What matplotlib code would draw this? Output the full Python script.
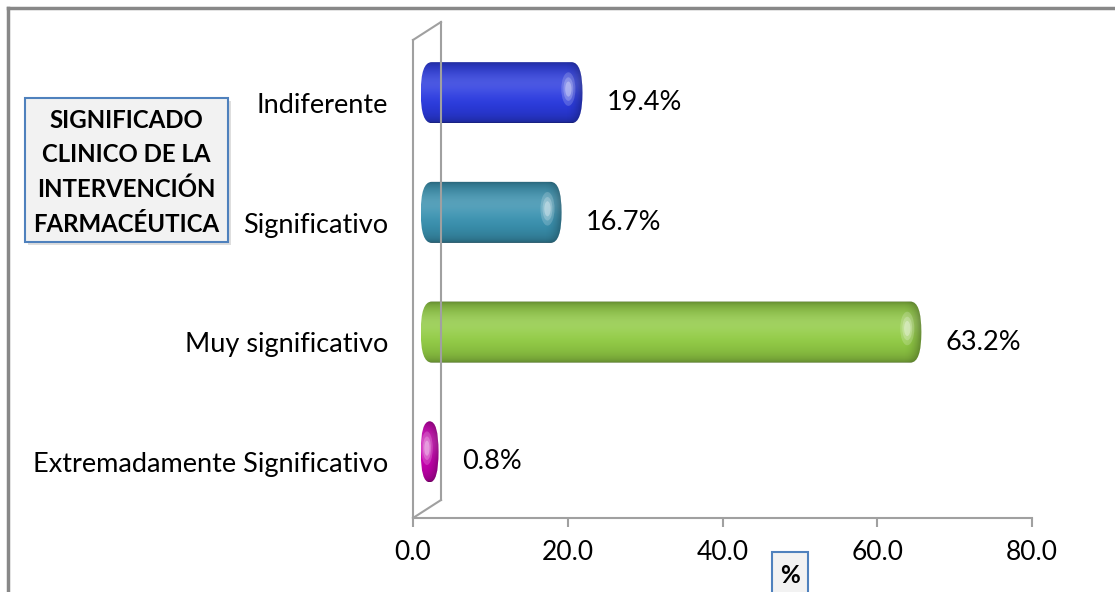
import numpy as np
import matplotlib.pyplot as plt
import matplotlib.colors as mcolors
from matplotlib.patches import FancyBboxPatch, Rectangle, Ellipse
from matplotlib.lines import Line2D

# data (top to bottom as in the chart)
categories = ['Indiferente', 'Significativo', 'Muy significativo', 'Extremadamente Significativo']
values = [19.4, 16.7, 63.2, 0.8]
bar_colors = ['#2B3BE0', '#3A92B0', '#92CC45', '#C800B0']
x_ticks = [0, 20, 40, 60, 80]
x_tick_labels = ['0.0', '20.0', '40.0', '60.0', '80.0']
box_lines = ['SIGNIFICADO', 'CLINICO DE LA', 'INTERVENCIÓN', 'FARMACÉUTICA']

plt.rcParams['font.family'] = ['Lato', 'DejaVu Sans']

W, H = 1115, 592
fig = plt.figure(figsize=(W / 100, H / 100), dpi=100)
fig.patch.set_facecolor('white')


def fx(px):
    return px / W


def fy(py):
    return 1 - py / H


ax = fig.add_axes([fx(413), fy(518), (1032 - 413) / W, (518 - 40) / H])
ax.set_facecolor('none')

pos = np.arange(len(categories))[::-1]
depth_x, depth_y = 1.0, 0.085   # small 3D shift of the cylinders
bar_h = 0.51


def shade(base, n=80):
    rgb = np.array(mcolors.to_rgb(base))
    t = np.linspace(0, 1, n)
    light = np.exp(-((t - 0.35) / 0.22) ** 2)
    dark = 0.55 + 0.45 * np.sin(np.pi * t) ** 0.35
    cols = rgb[None, :] * dark[:, None]
    cols = cols + (1 - cols) * 0.15 * light[:, None]
    return cols.reshape(n, 1, 3)


for cat, v, c, p in zip(categories, values, bar_colors, pos):
    x0 = depth_x
    x1 = v + 2.5
    yc = p + depth_y
    y0, y1 = yc - bar_h / 2, yc + bar_h / 2
    w = x1 - x0
    r = min(1.4, w / 2)
    patch = FancyBboxPatch((x0, y0), w, bar_h,
                           boxstyle=f'round,pad=0,rounding_size={r}',
                           mutation_aspect=(bar_h / 2) / r,
                           facecolor='none', edgecolor='none')
    ax.add_patch(patch)
    im = ax.imshow(shade(c), extent=(x0, x1, y0, y1), aspect='auto',
                   origin='upper', interpolation='bilinear', zorder=2)
    im.set_clip_path(patch)
    # darker right cap
    m = 200
    ramp = np.clip((np.linspace(x0, x1, m) - (x1 - 1.6 * r)) / (1.6 * r), 0, 1)
    over = np.zeros((1, m, 4))
    over[0, :, 3] = 0.3 * ramp ** 2
    im2 = ax.imshow(over, extent=(x0, x1, y0, y1), aspect='auto',
                    interpolation='bilinear', zorder=3)
    im2.set_clip_path(patch)
    # soft highlight near the right end
    for k, a in zip([1.0, 0.7, 0.45], [0.18, 0.22, 0.3]):
        hl = Ellipse((x1 - 1.3 * r, yc + 0.03), 1.3 * r * k, bar_h * 0.55 * k,
                     facecolor='white', edgecolor='none', alpha=a, zorder=4)
        ax.add_patch(hl)
        hl.set_clip_path(patch)
    ax.annotate(f'{v}%', xy=(x1, p), xytext=(24, 0), textcoords='offset pixels',
                va='center', ha='left', fontsize=19.5, color='black')

ax.set_xlim(0, 80)
ax.set_ylim(-0.468, 3.525)
ax.set_xticks(x_ticks)
ax.set_xticklabels(x_tick_labels, fontsize=19)
ax.set_yticks(pos)
ax.set_yticklabels(categories, fontsize=19.5)
ax.tick_params(axis='y', length=0, pad=18)
ax.tick_params(axis='x', direction='out', length=6.5, width=1.5, color='#A0A0A0', pad=9)
for s in ['top', 'right', 'left']:
    ax.spines[s].set_visible(False)
ax.spines['bottom'].set_color('#A0A0A0')
ax.spines['bottom'].set_linewidth(1.5)

# 3D side wall
wall = [((413, 40), (413, 518)), ((441, 22), (441, 500)),
        ((413, 40), (441, 22)), ((413, 518), (441, 500))]
for (ax0, ay0), (ax1, ay1) in wall:
    fig.add_artist(Line2D([fx(ax0), fx(ax1)], [fy(ay0), fy(ay1)],
                          color='#A0A0A0', lw=1.5))

# outer border
fig.add_artist(Line2D([fx(8), fx(8)], [fy(8), 0], color='#888888', lw=2.5))
fig.add_artist(Line2D([fx(8), 1], [fy(8), fy(8)], color='#888888', lw=2.5))

# title box
fig.add_artist(Rectangle((fx(28), fy(245)), (228 - 25) / W, (242 - 98) / H,
                         facecolor='#C8C8C8', edgecolor='none', alpha=0.6))
fig.add_artist(Rectangle((fx(25), fy(242)), (228 - 25) / W, (242 - 98) / H,
                         facecolor='#F2F2F2', edgecolor='#4F81BD', lw=1.5))
for line, base in zip(box_lines, [128, 162, 197, 232]):
    fig.text(fx(126.5), fy(base), line, ha='center', va='baseline',
             fontsize=17.3, fontweight='bold')

# axis title box
fig.add_artist(Rectangle((fx(772), fy(600)), 36 / W, 48 / H,
                         facecolor='#F2F2F2', edgecolor='#4F81BD', lw=1.5))
fig.text(fx(790), fy(583), '%', ha='center', va='baseline',
         fontsize=17.5, fontweight='bold')

fig.savefig('out.png', dpi=100)
